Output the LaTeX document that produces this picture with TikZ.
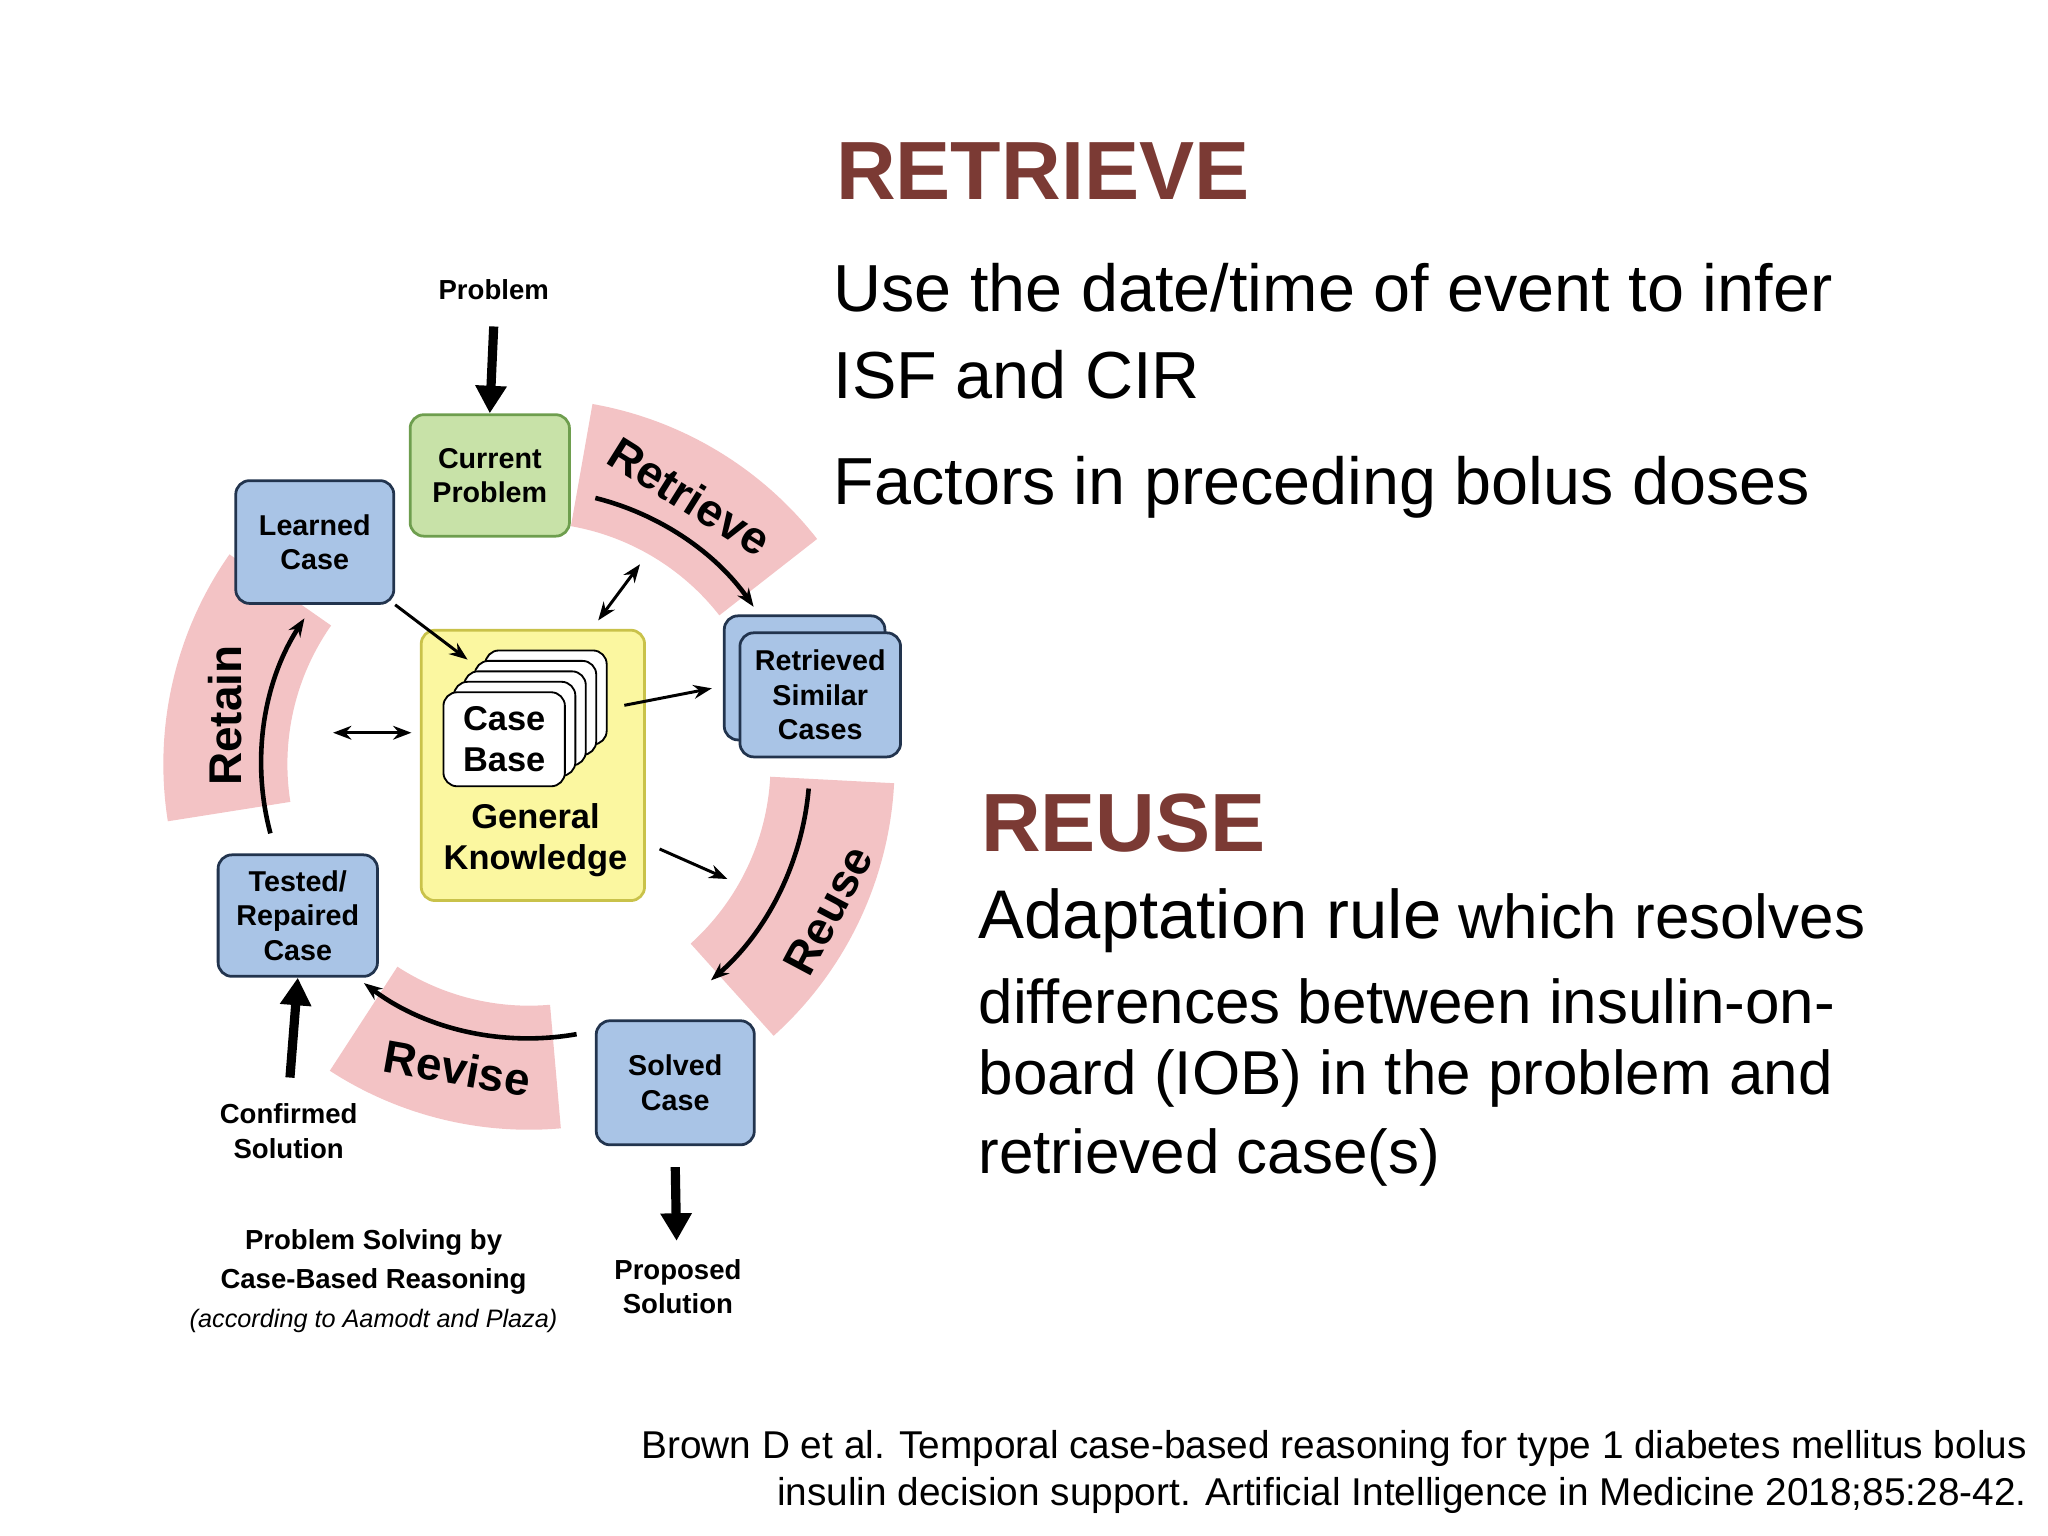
\documentclass[tikz,border=0pt]{standalone}
\usepackage{fontspec}
\setmainfont{Liberation Sans}
\usetikzlibrary{calc,arrows.meta}
\definecolor{pinkb}{HTML}{F3C3C5}
\definecolor{gfill}{HTML}{C8E2A8}
\definecolor{gdraw}{HTML}{6E9E4E}
\definecolor{bfill}{HTML}{A9C4E6}
\definecolor{bdraw}{HTML}{22344E}
\definecolor{yfill}{HTML}{FBF7A0}
\definecolor{ydraw}{HTML}{C9C24A}
\definecolor{title}{HTML}{7B3A34}
\begin{document}
\begin{tikzpicture}[x=0.02cm,y=0.02cm,
  box/.style={draw=bdraw,fill=bfill,line width=1.2pt,rounded corners=6pt,align=center,font=\fontsize{12.5}{15}\selectfont\bfseries,inner sep=0pt},
  lab/.style={align=center,font=\fontsize{12}{15}\selectfont\bfseries},
  thin/.style={-{Stealth[length=8pt,width=6pt]},line width=1.3pt},
  thick/.style={-{Triangle[length=12pt,width=13pt]},line width=4pt},
  band/.style={font=\fontsize{20}{22}\selectfont\bfseries},
  big/.style={anchor=west,font=\fontsize{29}{34}\selectfont},
  bigr/.style={anchor=west,font=\fontsize{27}{32}\selectfont}]
\useasboundingbox (0,0) rectangle (1568,-1176);
\coordinate (c) at (405,-585);
% bands
\foreach \a/\b in {80/38, -3/-48, 237/275, 145/189}{
  \fill[pinkb] ($(c)+(\a:5.6cm)$) arc[start angle=\a,end angle=\b,radius=5.6cm]
     -- ($(c)+(\b:3.7cm)$) arc[start angle=\b,end angle=\a,radius=3.7cm] -- cycle;}
% band arrows
\draw[thin,line width=2pt] ($(c)+(76:4.2cm)$) arc[start angle=76,end angle=35,radius=4.2cm];
\draw[thin,line width=2pt] ($(c)+(-5:4.3cm)$) arc[start angle=-5,end angle=-49,radius=4.4cm];
\draw[thin,line width=2pt] ($(c)+(-80:4.2cm)$) arc[start angle=-80,end angle=-127,radius=4.2cm];
\draw[thin,line width=2pt] ($(c)+(195:4.1cm)$) arc[start angle=195,end angle=147,radius=4.1cm];
\node[band,rotate=-32] (tret) at (528,-380) {Retrieve};
\node[band,rotate=62] (treu) at (634,-697) {Reuse};
\node[band,rotate=-10] (trev) at (350,-818) {Revise};
\node[band,rotate=90] (tret2) at (172,-548) {Retain};
% boxes
\node[box,draw=gdraw,fill=gfill,minimum width=122*0.02cm,minimum height=93*0.02cm] (cp) at (375,-364) {Current\\Problem};
\node[box,minimum width=121*0.02cm,minimum height=94*0.02cm] (lc) at (241,-415) {Learned\\Case};
\node[box,draw=ydraw,fill=yfill,minimum width=171*0.02cm,minimum height=207*0.02cm] (gk) at (408,-586) {};
\node[lab,font=\fontsize{15}{18}\selectfont\bfseries] (gkt) at (410,-643) {General\\Knowledge};
\foreach \i in {4,3,2,1}{
  \node[box,draw=black,fill=white,line width=0.8pt,minimum width=93*0.02cm,minimum height=72*0.02cm] (cb\i) at (386+\i*8,-566+\i*8) {};}
\node[box,draw=black,fill=white,line width=0.8pt,minimum width=93*0.02cm,minimum height=72*0.02cm,font=\fontsize{15}{18}\selectfont\bfseries] (cb) at (386,-566) {Case\\Base};
\node[box,minimum width=123*0.02cm,minimum height=95*0.02cm] (rs0) at (616,-519) {};
\node[box,minimum width=123*0.02cm,minimum height=95*0.02cm] (rs) at (628,-532) {Retrieved\\Similar\\Cases};
\node[box,minimum width=122*0.02cm,minimum height=93*0.02cm] (tr) at (228,-701) {Tested/\\Repaired\\Case};
\node[box,minimum width=121*0.02cm,minimum height=95*0.02cm] (sc) at (517,-829) {Solved\\Case};
% labels
\node[lab] (prob) at (378,-222) {Problem};
\node[lab] (conf) at (221,-866) {Confirmed\\Solution};
\node[lab] (prop) at (519,-985) {Proposed\\Solution};
\node[lab] (psb) at (286,-966) {Problem Solving by\\[2pt]Case-Based Reasoning};
\node[font=\fontsize{11}{13}\selectfont\itshape] (acc) at (286,-1011) {(according to Aamodt and Plaza)};
% thick arrows
\draw[thick] (prob.south)++(0,-14) -- (cp.north);
\coordinate (confa) at (222,-825);
\draw[thick] (confa) -- (tr.south);
\coordinate (propa) at (518,-950);
\draw[thick] (sc.south)++(0,-16) -- (propa);
% thin arrows
\coordinate (a1) at (358,-505); \draw[thin] (lc.south east) -- (a1);
\coordinate (b1) at (458,-475); \coordinate (b2) at (490,-432); \draw[thin,{Stealth[length=8pt,width=6pt]}-{Stealth[length=8pt,width=6pt]}] (b1) -- (b2);
\coordinate (c1) at (478,-540); \coordinate (c2) at (545,-527); \draw[thin] (c1) -- (c2);
\coordinate (d1) at (505,-650); \coordinate (d2) at (557,-673); \draw[thin] (d1) -- (d2);
\coordinate (e1) at (255,-561); \coordinate (e2) at (315,-561); \draw[thin,{Stealth[length=8pt,width=6pt]}-{Stealth[length=8pt,width=6pt]}] (e1) -- (e2);
% right text
\node[anchor=base west,text=title,font=\fontsize{36}{40}\selectfont\bfseries] (h1) at (634,-153) {RETRIEVE};
\node[big] (t1) at (632,-220) {Use the date/time of event to infer};
\node[big] (t2) at (632,-287) {ISF and CIR};
\node[big] (t3) at (632,-373) {Factors in preceding bolus doses};
\node[anchor=base west,text=title,font=\fontsize{36}{40}\selectfont\bfseries] (h2) at (745,-652) {REUSE};
\node[bigr] (u1) at (743,-705) {{\fontsize{30}{34}\selectfont Adaptation rule} which resolves};
\node[bigr] (u2) at (743,-767) {differences between insulin-on-};
\node[bigr] (u3) at (743,-826) {board (IOB) in the problem and};
\node[bigr] (u4) at (743,-886) {retrieved case(s)};
\node[anchor=east,align=right,font=\fontsize{16.9}{20.5}\selectfont] (cit) at (1558,-1127) {Brown D et al. Temporal case-based reasoning for type 1 diabetes mellitus bolus\\insulin decision support. Artificial Intelligence in Medicine 2018;85:28-42.};
\end{tikzpicture}
\end{document}
